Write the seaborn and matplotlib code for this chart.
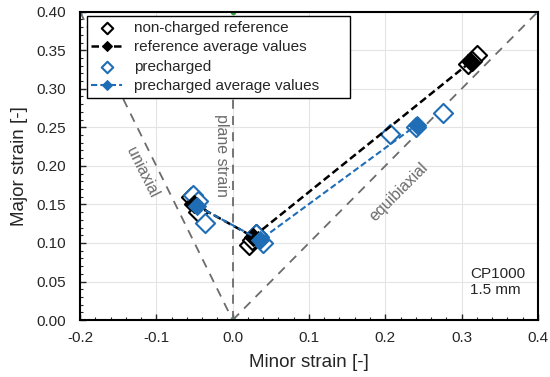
import matplotlib
matplotlib.use("Agg")
import matplotlib.pyplot as plt
import numpy as np
import pandas as pd
import seaborn as sns
from matplotlib.ticker import MultipleLocator

sns.set_style("white")
plt.rcParams['font.family'] = ['Liberation Sans', 'DejaVu Sans']
plt.rcParams['font.size'] = 10

# measured strains
ref_x = [-0.055, -0.050, -0.045, 0.022, 0.030, 0.026, 0.308, 0.320, 0.314]
ref_y = [0.160, 0.150, 0.140, 0.098, 0.112, 0.104, 0.332, 0.344, 0.336]
ref_avg_x = [-0.050, 0.027, 0.312]
ref_avg_y = [0.150, 0.108, 0.335]

pre_x = [-0.052, -0.046, -0.036, 0.034, 0.040, 0.030, 0.206, 0.240, 0.276]
pre_y = [0.162, 0.154, 0.126, 0.108, 0.100, 0.112, 0.241, 0.250, 0.268]
pre_avg_x = [-0.047, 0.036, 0.241]
pre_avg_y = [0.148, 0.104, 0.253]

# strain path guide lines
uni_x = [-0.2, 0.0]
uni_y = [0.4, 0.0]
plane_x = [0.0, 0.0]
plane_y = [0.0, 0.4]
equi_x = [0.0, 0.4]
equi_y = [0.0, 0.4]

blue = '#1f6db5'
grey = '#6b6b6b'

fig = plt.figure(figsize=(5.5, 3.77), dpi=100)
ax = fig.add_subplot(111)

ax.grid(True, color='#e4e4e4', linewidth=0.8)
ax.set_axisbelow(True)

ax.plot(uni_x, uni_y, ls=(0, (5, 4)), color=grey, lw=1.3, marker='x', ms=3,
        mec='#3a7fc0', zorder=2)
ax.plot(plane_x, plane_y, ls=(0, (5, 4)), color=grey, lw=1.3, marker='o', ms=3,
        mec='#3aa040', mfc='#3aa040', zorder=2)
ax.plot(equi_x, equi_y, ls=(0, (5, 4)), color=grey, lw=1.3, marker='x', ms=3,
        mec='#5fa3c8', zorder=2)

ref = pd.DataFrame({'x': ref_x, 'y': ref_y})
ref_avg = pd.DataFrame({'x': ref_avg_x, 'y': ref_avg_y})
pre = pd.DataFrame({'x': pre_x, 'y': pre_y})
pre_avg = pd.DataFrame({'x': pre_avg_x, 'y': pre_avg_y})

sns.scatterplot(data=ref, x='x', y='y', ax=ax, marker='D', s=95,
                facecolor='white', edgecolor='black', linewidth=1.5,
                label='non-charged reference', zorder=4)
sns.lineplot(data=ref_avg, x='x', y='y', ax=ax, sort=False, color='black',
             lw=1.8, ls=(0, (3, 1.5)), marker='D', ms=9, mec='black',
             label='reference average values', zorder=5)
sns.scatterplot(data=pre, x='x', y='y', ax=ax, marker='D', s=95,
                facecolor='white', edgecolor=blue, linewidth=1.5,
                label='precharged', zorder=4)
sns.lineplot(data=pre_avg, x='x', y='y', ax=ax, sort=False, color=blue,
             lw=1.5, ls=(0, (3, 1.5)), marker='D', ms=9, mec=blue,
             label='precharged average values', zorder=5)

ax.text(-0.118, 0.192, 'uniaxial', rotation=-63.5, color=grey, fontsize=11.5,
        ha='center', va='center')
ax.text(-0.015, 0.214, 'plane strain', rotation=-90, color=grey, fontsize=11.5,
        ha='center', va='center')
ax.text(0.218, 0.166, 'equibiaxial', rotation=45, color=grey, fontsize=11.5,
        ha='center', va='center')
ax.text(0.311, 0.030, 'CP1000\n1.5 mm', fontsize=11, ha='left', va='bottom',
        linespacing=1.15)

ax.set_xlim(-0.2, 0.4)
ax.set_ylim(0.0, 0.4)
ax.xaxis.set_major_locator(MultipleLocator(0.1))
ax.xaxis.set_minor_locator(MultipleLocator(0.02))
ax.yaxis.set_major_locator(MultipleLocator(0.05))
ax.yaxis.set_minor_locator(MultipleLocator(0.01))
ax.xaxis.set_major_formatter(plt.FormatStrFormatter('%.1f'))
ax.yaxis.set_major_formatter(plt.FormatStrFormatter('%.2f'))
ax.tick_params(which='both', direction='in', bottom=True, left=True,
               top=False, right=False)
ax.tick_params(which='major', length=4, labelsize=11, width=1)
ax.tick_params(axis='x', which='major', pad=8)
ax.tick_params(axis='y', which='major', pad=10)
ax.tick_params(which='minor', length=2.5, width=0.8)
for sp in ax.spines.values():
    sp.set_color('black')
    sp.set_linewidth(1.5)

ax.set_xlabel('Minor strain [-]', fontsize=13.5, labelpad=6)
ax.set_ylabel('Major strain [-]', fontsize=13.5, labelpad=6)

leg = ax.legend(loc='upper left', bbox_to_anchor=(0.015, 0.986, 0.574, 0.0),
                mode='expand', borderaxespad=0, fontsize=11,
                markerscale=0.6, frameon=True, fancybox=False,
                edgecolor='black', framealpha=1, handlelength=2.0,
                borderpad=0.3, labelspacing=0.36)
leg.get_frame().set_linewidth(1.0)

fig.subplots_adjust(left=0.1455, right=0.978, top=0.969, bottom=0.151)
fig.savefig('out.png', dpi=100)
